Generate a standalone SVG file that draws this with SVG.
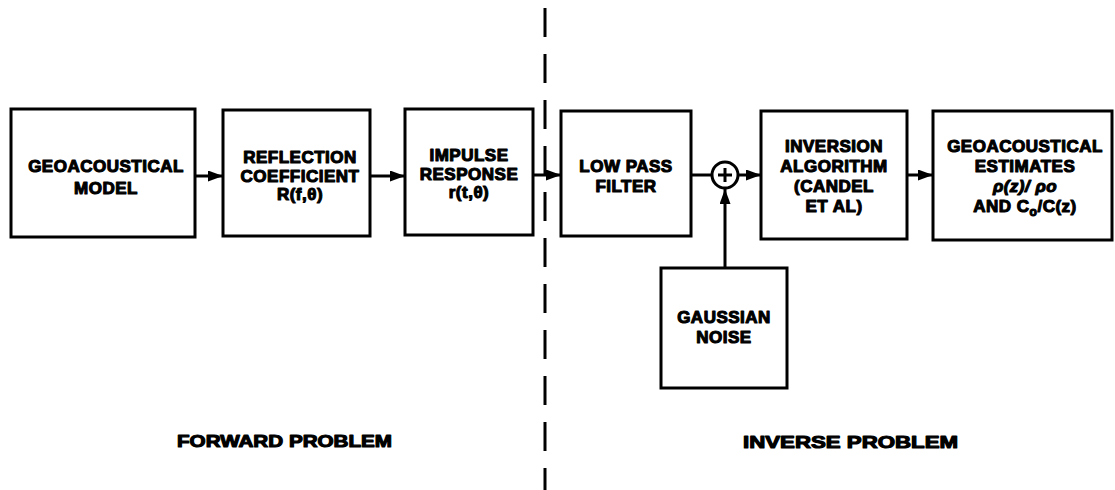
<svg xmlns="http://www.w3.org/2000/svg" width="1115" height="490" viewBox="0 0 1115 490">
<style>
.box{fill:#fff;stroke:#000;stroke-width:3}
.t{font-family:"Liberation Sans",Arial,sans-serif;font-weight:bold;font-size:17px;letter-spacing:0.5px;text-anchor:middle;fill:#000;stroke:#000;stroke-width:1.1;stroke-linejoin:round}
.lbl{font-family:"Liberation Sans",Arial,sans-serif;font-weight:bold;font-size:17px;fill:#000;stroke:#000;stroke-width:1.1;stroke-linejoin:round}
.ln{stroke:#000;stroke-width:3;fill:none}
</style>
<defs>
<marker id="ah" viewBox="0 0 15 11" refX="15" refY="5.5" markerWidth="15" markerHeight="11" markerUnits="userSpaceOnUse" orient="auto">
<path d="M0,0 L15,5.5 L0,11 Z" fill="#000"/>
</marker>
</defs>
<rect width="1115" height="490" fill="#fff"/>
<g id="divider">
<line x1="545" y1="8" x2="545" y2="490" stroke="#000" stroke-width="3" stroke-dasharray="29 17"/>
</g>
<g id="connectors">
<line class="ln" x1="195" y1="176" x2="223" y2="176" marker-end="url(#ah)"/>
<line class="ln" x1="370" y1="176" x2="405" y2="176" marker-end="url(#ah)"/>
<line class="ln" x1="533" y1="175" x2="561" y2="175" marker-end="url(#ah)"/>
<line class="ln" x1="691" y1="175" x2="711" y2="175"/>
<line class="ln" x1="738" y1="175" x2="761" y2="175" marker-end="url(#ah)"/>
<line class="ln" x1="725" y1="268" x2="725" y2="189" marker-end="url(#ah)"/>
<line class="ln" x1="907" y1="175" x2="933" y2="175" marker-end="url(#ah)"/>
</g>
<g id="n1">
<rect class="box" x="11" y="109" width="184" height="128"/>
<text class="t" x="106" y="172">GEOACOUSTICAL</text>
<text class="t" x="106" y="194">MODEL</text>
</g>
<g id="n2">
<rect class="box" x="223" y="110" width="147" height="126"/>
<text class="t" x="300" y="163">REFLECTION</text>
<text class="t" x="300" y="182">COEFFICIENT</text>
<text class="t" x="300" y="200">R(f,θ)</text>
</g>
<g id="n3">
<rect class="box" x="405" y="109" width="128" height="126"/>
<text class="t" x="469" y="161">IMPULSE</text>
<text class="t" x="469" y="180">RESPONSE</text>
<text class="t" x="469" y="198">r(t,θ)</text>
</g>
<g id="n4">
<rect class="box" x="561" y="111" width="130" height="125"/>
<text class="t" x="626" y="172">LOW PASS</text>
<text class="t" x="626" y="192">FILTER</text>
</g>
<g id="sum">
<circle cx="725" cy="175" r="13" fill="#fff" stroke="#000" stroke-width="3"/>
<line x1="725" y1="168" x2="725" y2="182" stroke="#000" stroke-width="3"/>
<line x1="718" y1="175" x2="732" y2="175" stroke="#000" stroke-width="3"/>
</g>
<g id="n5">
<rect class="box" x="761" y="111" width="146" height="128"/>
<text class="t" x="834" y="152">INVERSION</text>
<text class="t" x="834" y="172">ALGORITHM</text>
<text class="t" x="834" y="192">(CANDEL</text>
<text class="t" x="834" y="212">ET AL)</text>
</g>
<g id="n6">
<rect class="box" x="933" y="111" width="179" height="129"/>
<text class="t" x="1025" y="152">GEOACOUSTICAL</text>
<text class="t" x="1025" y="172">ESTIMATES</text>
<text class="t" x="1025" y="192" font-style="italic">ρ(z)/ ρo</text>
<text class="t" x="1025" y="212">AND C<tspan font-size="12" dy="4">o</tspan><tspan dy="-4">/C(z)</tspan></text>
</g>
<g id="n7">
<rect class="box" x="661" y="268" width="126" height="120"/>
<text class="t" x="724" y="323">GAUSSIAN</text>
<text class="t" x="724" y="343">NOISE</text>
</g>
<g id="labels">
<text class="lbl" x="177" y="447" textLength="215" lengthAdjust="spacingAndGlyphs">FORWARD PROBLEM</text>
<text class="lbl" x="743" y="448" textLength="215" lengthAdjust="spacingAndGlyphs">INVERSE PROBLEM</text>
</g>
</svg>
